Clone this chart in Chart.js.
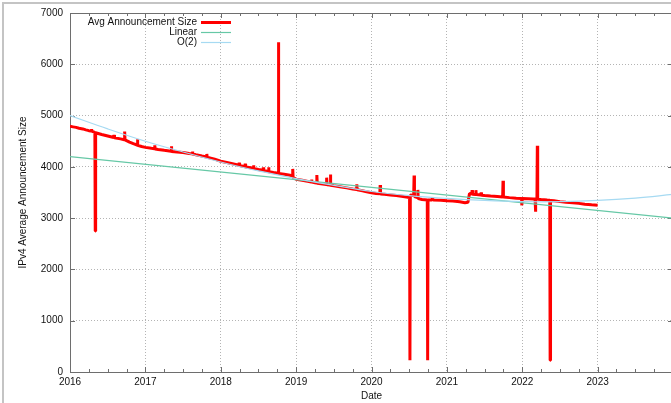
<!DOCTYPE html>
<html>
<head>
<meta charset="utf-8">
<script src="https://cdn.jsdelivr.net/npm/chart.js@4/dist/chart.umd.min.js"></script>
<style>
  html, body { margin: 0; padding: 0; background: #fff; overflow: hidden; }
  #frame { position: absolute; left: 2px; top: 2px; width: 700px; height: 420px;
           border-left: 2px solid #c4c4c4; border-top: 2px solid #c4c4c4; }
  #chart { position: absolute; left: 0; top: 0; }
</style>
</head>
<body>
<div id="frame"></div>
<canvas id="chart" width="680" height="403"></canvas>
<script>
// tick labels
const yearTicks = [2016, 2017, 2018, 2019, 2020, 2021, 2022, 2023, 2024];
const yearLabels = ['2016', '2017', '2018', '2019', '2020', '2021', '2022', '2023', ''];
const sizeTicks = [0, 1000, 2000, 3000, 4000, 5000, 6000, 7000];
const minorStep = 0.25;

// [decimal year, average announcement size]
const avgSize = [
  // 2016
  [2016.00, 4790], [2016.04, 4780], [2016.08, 4770], [2016.12, 4752], [2016.17, 4740],
  [2016.21, 4722], [2016.25, 4706], [2016.28, 4700], [2016.285, 4740], [2016.29, 4696],
  [2016.33, 4672], [2016.335, 2750], [2016.34, 4666],
  [2016.42, 4632], [2016.50, 4602], [2016.58, 4572], [2016.585, 4620], [2016.59, 4566],
  [2016.67, 4546], [2016.72, 4530], [2016.725, 4690], [2016.73, 4525],
  [2016.79, 4482], [2016.84, 4452], [2016.89, 4426], [2016.895, 4540], [2016.90, 4420],
  [2016.95, 4396],
  // 2017
  [2017.00, 4380], [2017.08, 4362], [2017.12, 4355], [2017.125, 4420], [2017.13, 4350],
  [2017.17, 4340], [2017.25, 4322], [2017.34, 4306], [2017.345, 4400], [2017.35, 4300],
  [2017.42, 4290], [2017.50, 4280], [2017.58, 4262], [2017.62, 4255], [2017.625, 4300],
  [2017.63, 4250], [2017.67, 4236], [2017.75, 4210], [2017.81, 4192], [2017.815, 4250],
  [2017.82, 4186], [2017.88, 4166], [2017.92, 4150],
  // 2018
  [2018.00, 4110], [2018.08, 4086], [2018.17, 4056], [2018.24, 4032], [2018.245, 4080],
  [2018.25, 4026], [2018.32, 4002], [2018.325, 4060], [2018.33, 3998], [2018.42, 3976],
  [2018.43, 3972], [2018.435, 4030], [2018.44, 3970], [2018.50, 3950], [2018.56, 3932],
  [2018.565, 3990], [2018.57, 3928], [2018.63, 3910], [2018.635, 3990], [2018.64, 3906],
  [2018.70, 3890], [2018.76, 3876], [2018.765, 6430], [2018.77, 3872], [2018.84, 3856],
  [2018.90, 3840], [2018.95, 3826], [2018.955, 3960], [2018.96, 3790],
  // 2019
  [2019.00, 3760], [2019.08, 3738], [2019.17, 3712], [2019.20, 3705], [2019.205, 3755],
  [2019.21, 3702], [2019.25, 3690], [2019.27, 3685], [2019.275, 3840], [2019.28, 3682],
  [2019.33, 3670], [2019.40, 3655], [2019.405, 3790], [2019.41, 3652], [2019.45, 3645],
  [2019.455, 3850], [2019.46, 3640], [2019.50, 3630], [2019.58, 3612], [2019.67, 3590],
  [2019.75, 3570], [2019.80, 3560], [2019.805, 3660], [2019.81, 3555], [2019.88, 3535],
  [2019.92, 3520],
  // 2020
  [2020.00, 3495], [2020.06, 3482], [2020.11, 3474], [2020.115, 3645], [2020.12, 3470],
  [2020.17, 3464], [2020.25, 3452], [2020.33, 3440], [2020.42, 3422], [2020.505, 3400],
  [2020.51, 230], [2020.515, 3450], [2020.56, 3440], [2020.565, 3830], [2020.57, 3420],
  [2020.61, 3400], [2020.615, 3550], [2020.62, 3380], [2020.67, 3362], [2020.74, 3354],
  [2020.745, 230], [2020.75, 3352], [2020.80, 3355], [2020.81, 3390], [2020.82, 3352],
  [2020.92, 3350],
  // 2021
  [2021.00, 3340], [2021.08, 3332], [2021.17, 3318], [2021.24, 3300], [2021.28, 3310],
  [2021.30, 3480], [2021.33, 3470], [2021.335, 3545], [2021.34, 3468], [2021.38, 3462],
  [2021.385, 3545], [2021.39, 3460], [2021.45, 3450], [2021.455, 3500], [2021.46, 3448],
  [2021.50, 3440], [2021.58, 3430], [2021.67, 3420], [2021.74, 3412], [2021.745, 3730],
  [2021.75, 3410], [2021.83, 3400], [2021.92, 3390], [2021.99, 3385], [2021.995, 3250],
  // 2022
  [2022.00, 3382], [2022.08, 3380], [2022.15, 3375], [2022.17, 3372], [2022.175, 3125],
  [2022.18, 3370], [2022.195, 3370], [2022.20, 4410], [2022.205, 3368], [2022.25, 3362],
  [2022.33, 3352], [2022.365, 3348], [2022.37, 230], [2022.375, 3345], [2022.42, 3338],
  [2022.50, 3322], [2022.58, 3310], [2022.67, 3300], [2022.75, 3288], [2022.83, 3272],
  [2022.92, 3260], [2023.00, 3250]
];

const linearFit = [[2016, 4200], [2024, 3000]];

const quadFit = [
  [2016.0, 5000], [2016.5, 4740], [2017.0, 4500], [2017.5, 4290], [2018.0, 4095],
  [2018.5, 3920], [2019.0, 3770], [2019.5, 3640], [2020.0, 3520], [2020.5, 3440],
  [2021.0, 3385], [2021.5, 3345], [2022.0, 3322], [2022.5, 3322], [2023.0, 3345],
  [2023.5, 3392], [2024.0, 3462]
];

const font = { family: '"Liberation Sans", Arial, sans-serif', size: 10 };
const gridColor = '#b4b4b4';

// gnuplot style border with inward ticks
const framePlugin = {
  id: 'frame',
  beforeDatasetsDraw(chart) {
    const { ctx, chartArea: a, scales: { x, y } } = chart;
    ctx.save();
    ctx.strokeStyle = '#6e6e6e';
    ctx.lineWidth = 1;
    ctx.strokeRect(a.left + 0.5, a.top + 0.5, a.right - a.left, a.bottom - a.top);
    ctx.beginPath();
    for (let v = x.min; v <= x.max + 1e-9; v += minorStep) {
      const px = Math.round(x.getPixelForValue(v)) + 0.5;
      const len = Math.abs(v - Math.round(v)) < 1e-6 ? 5 : 3;
      ctx.moveTo(px, a.bottom); ctx.lineTo(px, a.bottom - len);
      ctx.moveTo(px, a.top); ctx.lineTo(px, a.top + len);
    }
    sizeTicks.forEach(v => {
      const py = Math.round(y.getPixelForValue(v)) + 0.5;
      ctx.moveTo(a.left, py); ctx.lineTo(a.left + 5, py);
      ctx.moveTo(a.right, py); ctx.lineTo(a.right - 5, py);
    });
    ctx.stroke();
    ctx.restore();
  }
};

// key in the top-left corner: text then line sample
const keyPlugin = {
  id: 'key',
  afterDatasetsDraw(chart) {
    const { ctx, chartArea: a } = chart;
    ctx.save();
    ctx.font = '10px "Liberation Sans", Arial, sans-serif';
    ctx.textAlign = 'right';
    ctx.textBaseline = 'middle';
    chart.data.datasets.forEach((ds, i) => {
      const yy = a.top + 9.5 + i * 10;
      ctx.fillStyle = '#111';
      ctx.fillText(ds.label, a.left + 127, yy);
      ctx.strokeStyle = ds.borderColor;
      ctx.lineWidth = ds.borderWidth;
      ctx.beginPath();
      ctx.moveTo(a.left + 131, yy);
      ctx.lineTo(a.left + 161, yy);
      ctx.stroke();
    });
    ctx.restore();
  }
};

new Chart(document.getElementById('chart'), {
  type: 'line',
  data: {
    datasets: [{
      label: 'Avg Announcement Size',
      data: avgSize,
      borderColor: '#ff0000',
      borderWidth: 3,
      borderJoinStyle: 'bevel',
      pointRadius: 0,
      order: 3
    }, {
      label: 'Linear',
      data: linearFit,
      borderColor: '#66c8a6',
      borderWidth: 1.2,
      pointRadius: 0,
      order: 2
    }, {
      label: 'O(2)',
      data: quadFit,
      borderColor: '#a6daf2',
      borderWidth: 1.2,
      pointRadius: 0,
      tension: 0.4,
      order: 1
    }]
  },
  options: {
    responsive: false,
    animation: false,
    layout: { padding: { top: 13, right: 7, left: 0, bottom: 0 } },
    scales: {
      x: {
        type: 'linear',
        min: 2016,
        max: 2024,
        afterBuildTicks: s => { s.ticks = yearTicks.map(v => ({ value: v })); },
        afterFit: s => { s.height = 31; },
        ticks: {
          color: '#111', font, padding: 4, maxRotation: 0, autoSkip: false,
          callback: (v, i) => yearLabels[i]
        },
        grid: {
          color: c => (c.index === 0 || c.index === yearTicks.length - 1) ? 'rgba(0,0,0,0)' : gridColor,
          drawTicks: false
        },
        border: { display: false, dash: [1, 2] },
        title: { display: true, text: 'Date', color: '#111', font, padding: { top: 0, bottom: 1 } }
      },
      y: {
        type: 'linear',
        min: 0,
        max: 7000,
        afterBuildTicks: s => { s.ticks = sizeTicks.map(v => ({ value: v })); },
        afterFit: s => { s.width = 70; },
        ticks: { color: '#111', font, padding: 7, callback: v => String(v) },
        grid: {
          color: c => (c.index === 0 || c.index === sizeTicks.length - 1) ? 'rgba(0,0,0,0)' : gridColor,
          drawTicks: false
        },
        border: { display: false, dash: [1, 2] },
        title: {
          display: true, text: 'IPv4 Average Announcement Size', color: '#111', font,
          padding: { top: 17, bottom: 0 }
        }
      }
    },
    plugins: {
      legend: { display: false },
      tooltip: { enabled: false }
    }
  },
  plugins: [framePlugin, keyPlugin]
});
</script>
</body>
</html>
